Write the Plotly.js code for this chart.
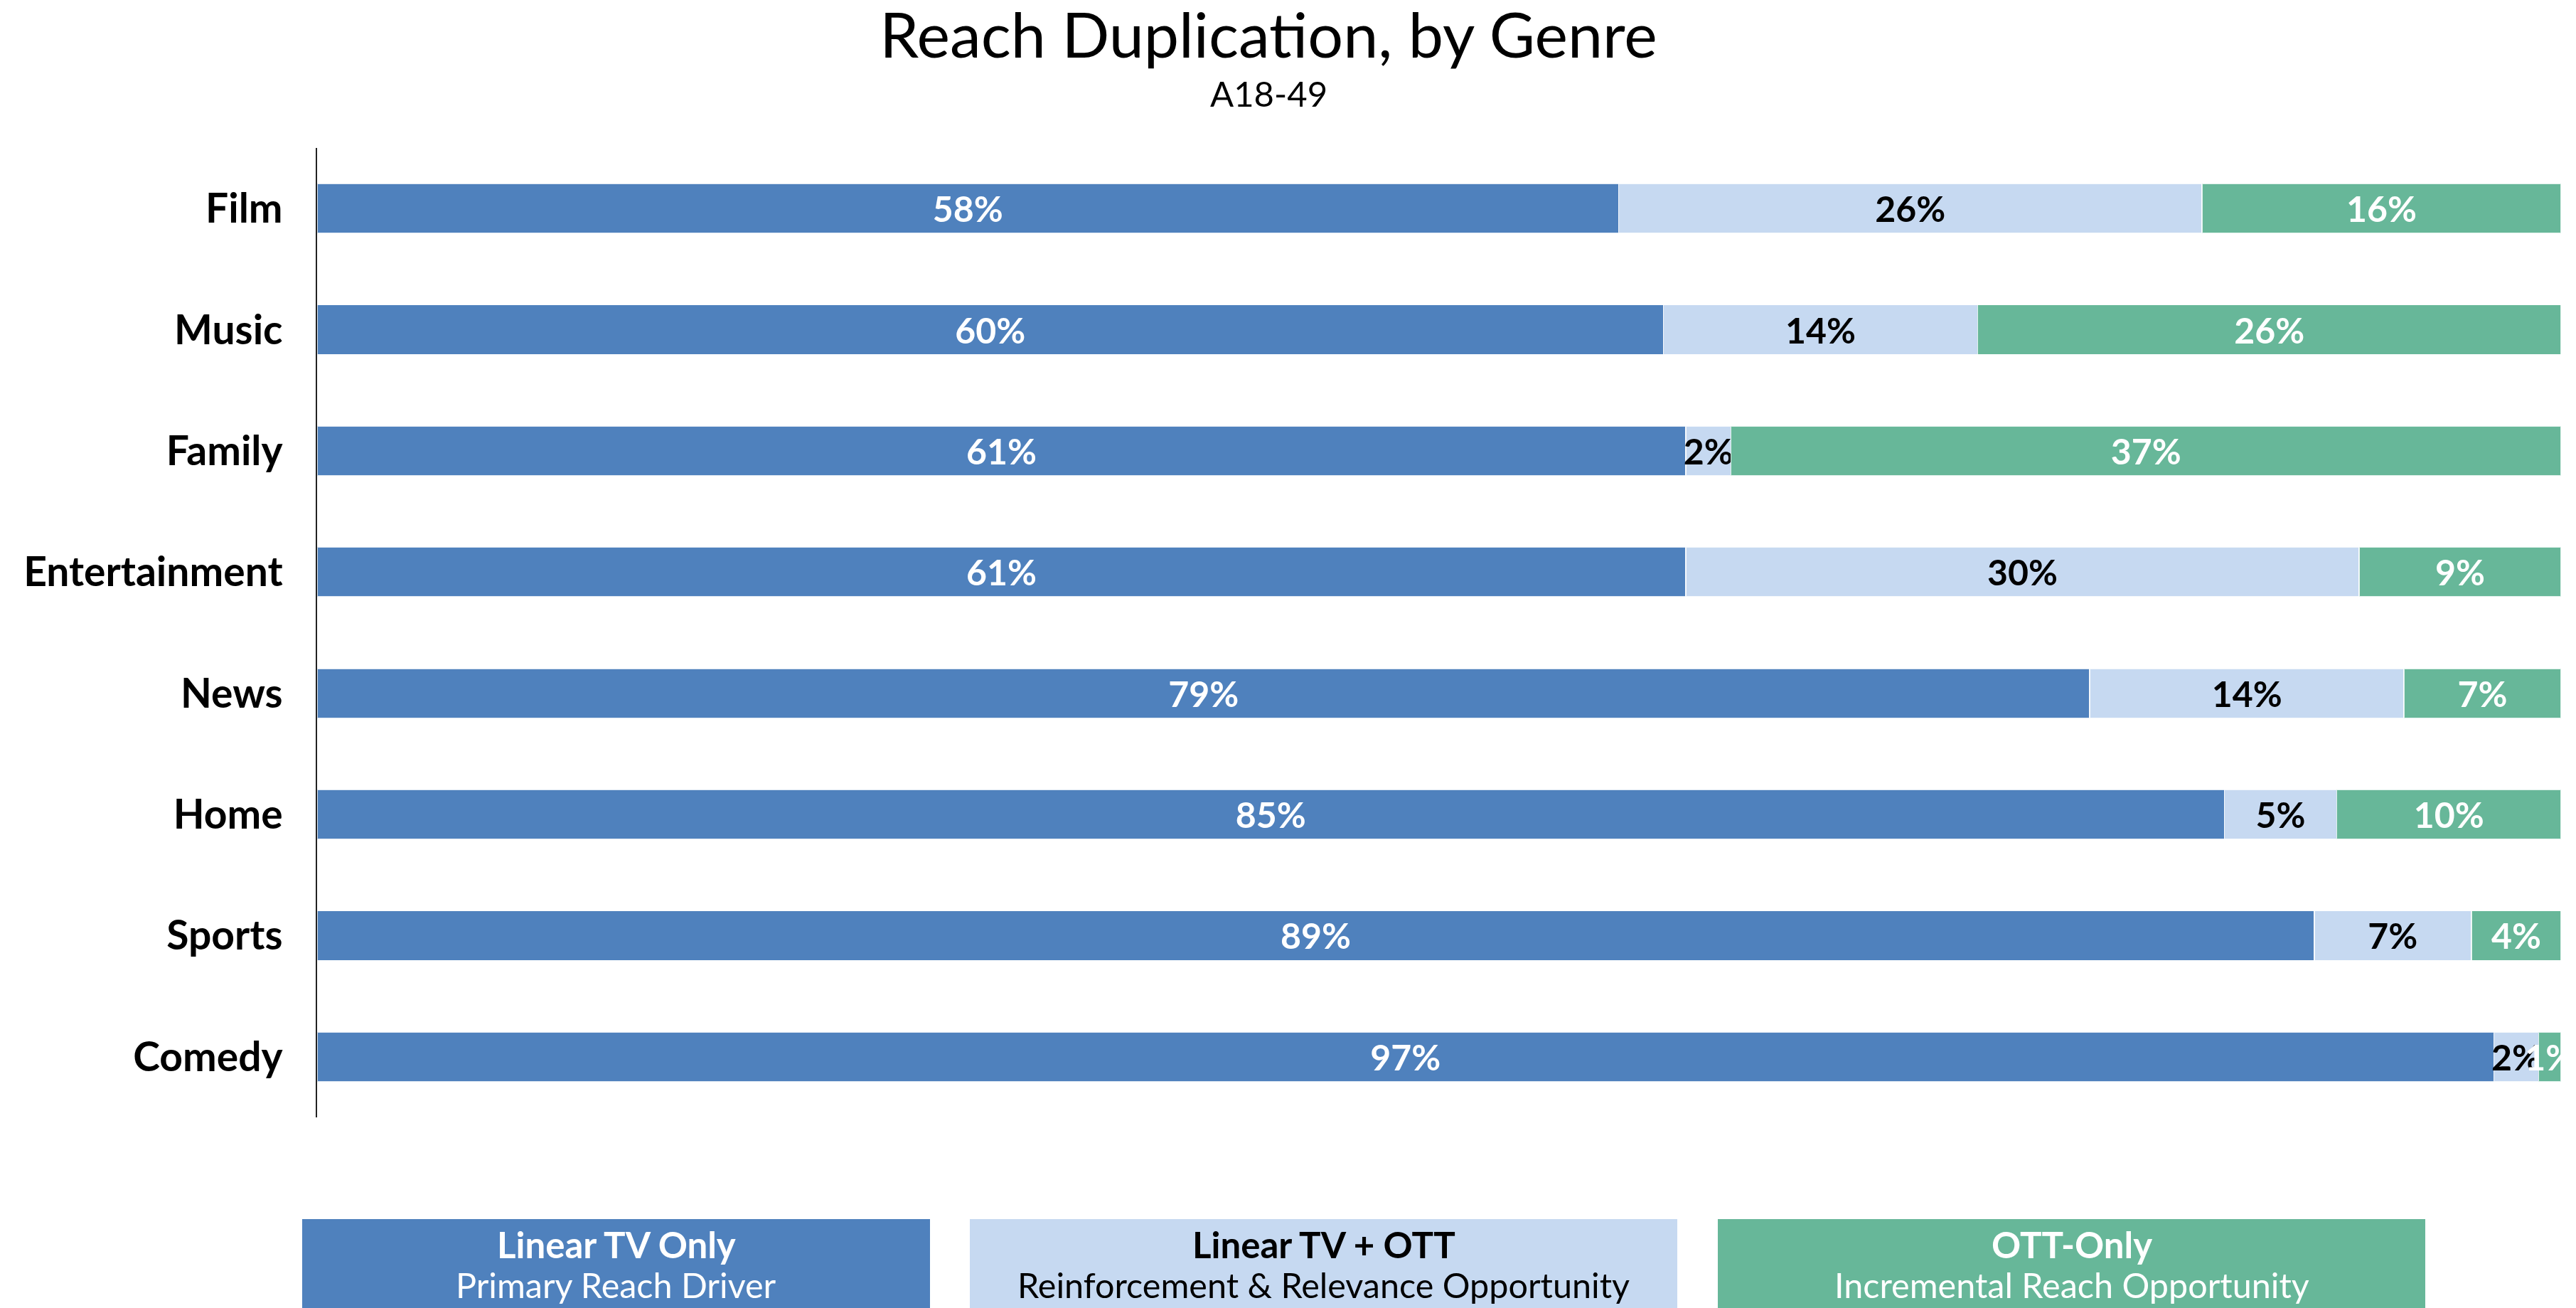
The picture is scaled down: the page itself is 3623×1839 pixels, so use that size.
<!DOCTYPE html>
<html>
<head>
<meta charset="utf-8">
<script src="https://cdn.plot.ly/plotly-3.0.1.min.js"></script>
<style>html,body{margin:0;padding:0;background:#fff;}#chart{width:3623px;height:1839px;}</style>
</head>
<body>
<div id="chart"></div>
<script>
// ---- data ----
const genres = ["Film", "Music", "Family", "Entertainment", "News", "Home", "Sports", "Comedy"];
const linearOnly = [58, 60, 61, 61, 79, 85, 89, 97];
const linearPlusOtt = [26, 14, 2, 30, 14, 5, 7, 2];
const ottOnly = [16, 26, 37, 9, 7, 10, 4, 1];
const seriesNames = ["Linear TV Only", "Linear TV + OTT", "OTT-Only"];
const seriesSubtitles = ["Primary Reach Driver", "Reinforcement & Relevance Opportunity", "Incremental Reach Opportunity"];
const chartTitle = "Reach Duplication, by Genre";
const chartSubtitle = "A18-49";

// ---- style ----
const FONT = "Lato, 'Open Sans', sans-serif";
const colors = ["#4F81BD", "#C6D9F1", "#67B799"];
const textColors = ["#ffffff", "#000000", "#ffffff"];
const W = 3623, H = 1839;
const plotL = 446, plotR = 3602, plotT = 208, plotB = 1571;
const px2x = p => (p - plotL) / (plotR - plotL);
const px2y = p => (plotB - p) / (plotB - plotT);

const allSeries = [linearOnly, linearPlusOtt, ottOnly];
const traces = allSeries.map((vals, i) => ({
  type: "bar",
  orientation: "h",
  name: seriesNames[i],
  y: genres,
  x: vals,
  marker: { color: colors[i], line: { color: "rgba(255,255,255,0.8)", width: 1.5 } },
  texttemplate: "%{x}%",
  textposition: "inside",
  insidetextanchor: "middle",
  textangle: 0,
  constraintext: "none",
  cliponaxis: true,
  insidetextfont: { family: FONT, size: 50, weight: "bold", color: textColors[i] },
  hoverinfo: "skip"
}));

const boxes = [[425, 1308], [1364, 2359], [2416, 3411]];
const shapes = boxes.map((b, i) => ({
  type: "rect", xref: "paper", yref: "paper",
  x0: px2x(b[0]), x1: px2x(b[1]), y0: px2y(1714), y1: px2y(1850),
  fillcolor: colors[i], line: { width: 0 }, layer: "above"
}));
const annotations = [];
boxes.forEach((b, i) => {
  const cx = px2x((b[0] + b[1]) / 2);
  annotations.push({
    xref: "paper", yref: "paper", x: cx, y: px2y(1749), xanchor: "center", yanchor: "middle",
    text: seriesNames[i], showarrow: false,
    font: { family: FONT, size: 51, weight: "bold", color: textColors[i] }
  });
  annotations.push({
    xref: "paper", yref: "paper", x: cx, y: px2y(1806), xanchor: "center", yanchor: "middle",
    text: seriesSubtitles[i], showarrow: false,
    font: { family: FONT, size: 48.5, color: textColors[i] }
  });
});
// subtitle
annotations.push({
  xref: "paper", yref: "paper", x: px2x(1784), y: px2y(131), xanchor: "center", yanchor: "middle",
  text: chartSubtitle, showarrow: false,
  font: { family: FONT, size: 49, color: "#000" }
});

const layout = {
  width: W, height: H,
  margin: { l: plotL, r: W - plotR, t: plotT, b: H - plotB, pad: 0 },
  paper_bgcolor: "#fff", plot_bgcolor: "#fff",
  barmode: "stack",
  bargap: 0.59,
  showlegend: false,
  font: { family: FONT, color: "#000" },
  title: {
    text: chartTitle,
    font: { family: FONT, size: 88, color: "#000" },
    xref: "container", x: 1784 / W, xanchor: "center",
    yref: "container", y: 1 - 50 / H, yanchor: "middle"
  },
  xaxis: {
    range: [0, 100], showgrid: false, zeroline: false, showticklabels: false,
    showline: false, ticks: ""
  },
  yaxis: {
    type: "category", categoryorder: "array", categoryarray: genres,
    range: [genres.length - 0.5, -0.5],
    showgrid: false, zeroline: false,
    showline: true, linecolor: "#222", linewidth: 2,
    ticks: "outside", ticklen: 35, tickcolor: "rgba(0,0,0,0)",
    tickfont: { family: FONT, size: 57, weight: "bold", color: "#000" }
  },
  shapes: shapes,
  annotations: annotations
};

Plotly.newPlot("chart", traces, layout, { staticPlot: true, displayModeBar: false });
</script>
</body>
</html>
